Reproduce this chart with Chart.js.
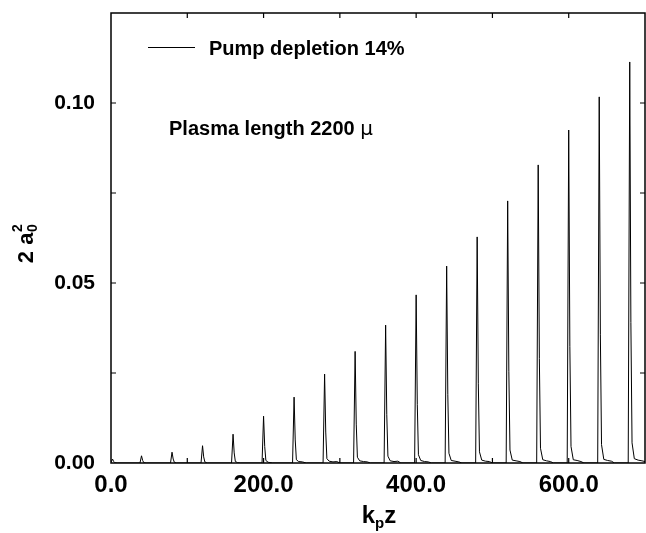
<!DOCTYPE html>
<html>
<head>
<meta charset="utf-8">
<script src="https://cdn.jsdelivr.net/npm/chart.js@4/dist/chart.umd.min.js"></script>
<style>
  html, body { margin: 0; padding: 0; background: #ffffff; }
  #wrap { width: 646px; height: 533px; }
</style>
</head>
<body>
<div id="wrap"><canvas id="c" width="646" height="533"></canvas></div>
<script>
// ---- data ----
const seriesLabel = 'Pump depletion 14%';
const annotationText = 'Plasma length 2200 ';
const annotationUnit = 'μ';

const kpz = [
  0, 2, 3.5, 5, 8,
  38, 40, 41.5, 43, 46,
  78, 80, 81.5, 83, 86,
  118, 120, 121.5, 123, 126,
  158, 160, 161.5, 163, 166, 170,
  198, 200, 201.5, 203, 206, 212,
  238, 240, 241.5, 243, 246, 251, 256,
  278, 280, 281.5, 283, 286, 291, 296, 300,
  318, 320, 321.5, 323, 326, 331, 336, 340,
  358, 360, 361.5, 363, 366, 371, 376, 380,
  398, 400, 401.5, 403, 406, 411, 416, 420,
  438, 440, 441.5, 443, 446, 451, 456, 460,
  478, 480, 481.5, 483, 486, 491, 496, 500,
  518, 520, 521.5, 523, 526, 531, 536, 540,
  558, 560, 561.5, 563, 566, 571, 576, 580,
  598, 600, 601.5, 603, 606, 611, 616, 620,
  638, 640, 641.5, 643, 646, 651, 656, 660,
  678, 680, 681.5, 683, 686, 691, 696, 700
];
const a0sq = [
  0.0002, 0.0011, 0.0004, 0.0001, 0,
  0, 0.0020, 0.0007, 0.0001, 0,
  0, 0.0030, 0.0011, 0.0002, 0,
  0, 0.0048, 0.0017, 0.0003, 0,
  0, 0.0080, 0.0028, 0.0004, 0.0001, 0,
  0, 0.0130, 0.0046, 0.0007, 0.0002, 0,
  0, 0.0183, 0.0064, 0.0009, 0.0004, 0.0003, 0,
  0, 0.0247, 0.0086, 0.0012, 0.0005, 0.0003, 0.0004, 0,
  0, 0.0310, 0.0108, 0.0016, 0.0006, 0.0004, 0.0003, 0,
  0, 0.0383, 0.0134, 0.0019, 0.0006, 0.0004, 0.0005, 0,
  0, 0.0467, 0.0163, 0.0023, 0.0007, 0.0004, 0.0003, 0,
  0, 0.0547, 0.0191, 0.0027, 0.0007, 0.0005, 0.0003, 0,
  0, 0.0628, 0.0220, 0.0031, 0.0008, 0.0005, 0.0004, 0,
  0, 0.0728, 0.0255, 0.0036, 0.0008, 0.0006, 0.0004, 0,
  0, 0.0828, 0.0290, 0.0041, 0.0009, 0.0006, 0.0004, 0,
  0, 0.0925, 0.0324, 0.0046, 0.0009, 0.0007, 0.0004, 0,
  0, 0.1017, 0.0356, 0.0051, 0.0010, 0.0007, 0.0005, 0,
  0, 0.1114, 0.0390, 0.0056, 0.0012, 0.0008, 0.0006, 0.0004
];
const xRange = [0, 700];
const yRange = [0, 0.125];
const xLabelStep = 200;
const yLabelStep = 0.05;
const xTickMarks = [100, 200, 300, 400, 500, 600];
const yTickMarks = [0.025, 0.05, 0.075, 0.10];

// ---- chart ----
const points = kpz.map((x, i) => ({ x: x, y: a0sq[i] }));
const FONT = '"Liberation Sans", Arial, Helvetica, sans-serif';

const decor = {
  id: 'decor',
  afterDraw(chart) {
    const ctx = chart.ctx;
    const a = chart.chartArea;
    const xs = chart.scales.x, ys = chart.scales.y;
    ctx.save();
    // frame
    ctx.strokeStyle = '#000';
    ctx.lineWidth = 1.5;
    ctx.strokeRect(a.left, a.top, a.right - a.left, a.bottom - a.top);
    // inward tick marks
    ctx.lineWidth = 1.2;
    const tl = 5;
    ctx.beginPath();
    xTickMarks.forEach(v => {
      const px = xs.getPixelForValue(v);
      ctx.moveTo(px, a.bottom); ctx.lineTo(px, a.bottom - tl);
      ctx.moveTo(px, a.top); ctx.lineTo(px, a.top + tl);
    });
    yTickMarks.forEach(v => {
      const py = ys.getPixelForValue(v);
      ctx.moveTo(a.left, py); ctx.lineTo(a.left + tl, py);
      ctx.moveTo(a.right, py); ctx.lineTo(a.right - tl, py);
    });
    ctx.stroke();

    // legend (inside plot)
    const ds = chart.data.datasets[0];
    ctx.strokeStyle = ds.borderColor;
    ctx.lineWidth = 1;
    ctx.beginPath();
    ctx.moveTo(148, 47.5); ctx.lineTo(195, 47.5);
    ctx.stroke();
    ctx.fillStyle = '#000';
    ctx.textBaseline = 'alphabetic';
    ctx.textAlign = 'left';
    ctx.font = 'bold 20px ' + FONT;
    ctx.fillText(ds.label, 209, 55);

    // annotation
    ctx.font = 'bold 20px ' + FONT;
    ctx.fillText(annotationText, 169, 134.5);
    const w = ctx.measureText(annotationText).width;
    ctx.font = '20px "DejaVu Sans", "Liberation Sans", sans-serif';
    ctx.fillText(annotationUnit, 169 + w, 134.5);

    // x axis title: k_p z
    const cx = (a.left + a.right) / 2;
    ctx.font = 'bold 24px ' + FONT;
    const wk = ctx.measureText('k').width;
    const wz = ctx.measureText('z').width;
    ctx.font = 'bold 15px ' + FONT;
    const wp = ctx.measureText('p').width;
    let x0 = cx - (wk + wp + wz) / 2 + 1;
    const base = 523;
    ctx.font = 'bold 24px ' + FONT;
    ctx.fillText('k', x0, base);
    ctx.font = 'bold 15px ' + FONT;
    ctx.fillText('p', x0 + wk, base + 5);
    ctx.font = 'bold 24px ' + FONT;
    ctx.fillText('z', x0 + wk + wp, base);

    // y axis title: 2 a_0^2 (rotated)
    ctx.translate(33, 244);
    ctx.rotate(-Math.PI / 2);
    ctx.font = 'bold 22px ' + FONT;
    const main = '2 a';
    const wm = ctx.measureText(main).width;
    ctx.font = 'bold 14px ' + FONT;
    const ws = ctx.measureText('0').width;
    let s = -(wm + ws) / 2;
    ctx.font = 'bold 22px ' + FONT;
    ctx.fillText(main, s, 0);
    ctx.font = 'bold 14px ' + FONT;
    ctx.fillText('0', s + wm + 0.5, 4);
    ctx.fillText('2', s + wm + 0.5, -11);
    ctx.restore();
  }
};

new Chart(document.getElementById('c'), {
  type: 'line',
  data: {
    datasets: [{
      label: seriesLabel,
      data: points,
      borderColor: '#000000',
      borderWidth: 1,
      pointRadius: 0,
      tension: 0,
      fill: false
    }]
  },
  options: {
    responsive: false,
    animation: false,
    devicePixelRatio: 1,
    layout: { padding: { top: 13, right: 1, left: 0, bottom: 0 } },
    plugins: {
      legend: { display: false },
      tooltip: { enabled: false }
    },
    scales: {
      x: {
        type: 'linear',
        min: xRange[0], max: xRange[1],
        grid: { display: false, drawTicks: false },
        border: { display: false },
        ticks: {
          stepSize: xLabelStep,
          includeBounds: false,
          padding: 8,
          color: '#000',
          maxRotation: 0,
          font: { family: FONT, size: 24, weight: 'bold' },
          callback: v => Number(v).toFixed(1)
        },
        afterFit: s => { s.height = 70; s.paddingLeft = 0; s.paddingRight = 0; }
      },
      y: {
        type: 'linear',
        min: yRange[0], max: yRange[1],
        grid: { display: false, drawTicks: false },
        border: { display: false },
        ticks: {
          stepSize: yLabelStep,
          includeBounds: false,
          padding: 16,
          color: '#000',
          font: { family: FONT, size: 21, weight: 'bold' },
          callback: v => Number(v).toFixed(2)
        },
        afterFit: s => { s.width = 111; s.paddingTop = 0; s.paddingBottom = 0; }
      }
    }
  },
  plugins: [decor]
});
</script>
</body>
</html>
